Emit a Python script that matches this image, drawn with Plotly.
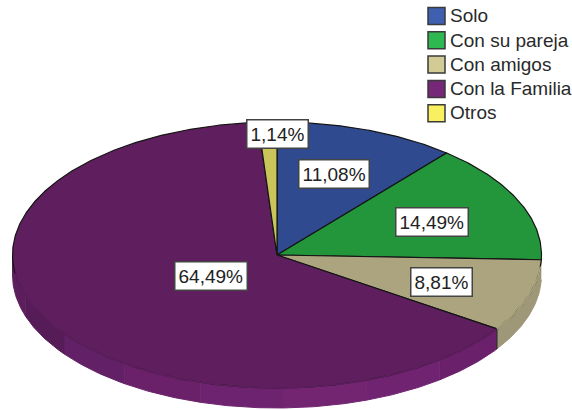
import numpy as np
import plotly.graph_objects as go

categories = ["Solo", "Con su pareja", "Con amigos", "Con la Familia", "Otros"]
values = [11.08, 14.49, 8.81, 64.49, 1.14]
value_labels = ["11,08%", "14,49%", "8,81%", "64,49%", "1,14%"]
legend_colors = ["#3f5fb0", "#2eb84f", "#d3cb95", "#762778", "#f8f060"]
face_colors = ["#2f4a8f", "#23963c", "#aba47e", "#5f1f5f", "#c9c55a"]

# Pie geometry (drawing units equal pixels)
CX, CY, RX, RY, DEPTH = 277, 255, 264.5, 133, 20
label_radius = [0.635, 0.64, 0.65, 0.29, 0.91]
label_dx = [0, 0, 1, 0, 9]
label_dy = [-2, 2, 0, 2, 0]
side_shades = ["#6a206a", "#702370", "#742572", "#6e2370", "#6a2169", "#622066", "#561c58", "#5c1e5c"]
LEGEND_SWATCH_X, LEGEND_TEXT_X, LEGEND_TOP, LEGEND_STEP, LEGEND_TEXT_DY = 436.5, 450, 16, 24.3, 1.5


def pt(deg, dy=0):
    r = np.radians(deg)
    return CX + RX * np.sin(r), CY - RY * np.cos(r) + dy


def arc(a, b):
    return np.linspace(a, b, max(int(abs(b - a) * 2), 2))


cum = np.concatenate([[0], np.cumsum(values)]) * 360 / sum(values)
fig = go.Figure()


def side(a, b, color):
    t = arc(a, b)
    xt, yt = pt(t)
    xb, yb = pt(t[::-1], DEPTH)
    fig.add_trace(go.Scatter(x=np.r_[xt, xb], y=np.r_[yt, yb], fill="toself", fillcolor=color,
                             mode="lines", line=dict(width=1, color=color),
                             showlegend=False, hoverinfo="skip"))


# side wall of the tan slice and banded purple wall
side(cum[2], cum[3], "#9e9878")
edges = np.linspace(cum[3], 270, len(side_shades) + 1)
for i, shade in enumerate(side_shades):
    side(edges[i], edges[i + 1], shade)

# vertical edge between the tan and purple walls
x0, y0 = pt(cum[3])
fig.add_trace(go.Scatter(x=[x0, x0], y=[y0, y0 + DEPTH], mode="lines",
                         line=dict(color="#2a2a2a", width=1.2), showlegend=False, hoverinfo="skip"))
# top faces
for i in range(len(values)):
    t = arc(cum[i], cum[i + 1])
    xa, ya = pt(t)
    fig.add_trace(go.Scatter(x=np.r_[CX, xa, CX], y=np.r_[CY, ya, CY], fill="toself",
                             fillcolor=face_colors[i], mode="lines",
                             line=dict(color="#151515", width=1.2),
                             showlegend=False, hoverinfo="skip"))

# lower front rim has no black line: repaint it in the face colours
for i in [2, 3]:
    t = arc(max(cum[i], 95), min(cum[i + 1], 262))
    xa, ya = pt(t)
    fig.add_trace(go.Scatter(x=xa, y=ya, mode="lines",
                             line=dict(color=face_colors[i], width=1.6),
                             showlegend=False, hoverinfo="skip"))

# legend
rows = [LEGEND_TOP + i * LEGEND_STEP for i in range(len(categories))]
fig.add_trace(go.Scatter(x=[LEGEND_SWATCH_X] * len(rows), y=rows, mode="markers",
                         marker=dict(symbol="square", size=17, color=legend_colors,
                                     line=dict(color="#3a3a3a", width=1.5)),
                         showlegend=False, hoverinfo="skip"))
fig.add_trace(go.Scatter(x=[LEGEND_TEXT_X] * len(rows), y=[r + LEGEND_TEXT_DY for r in rows],
                         mode="text", text=categories,
                         textposition="middle right", textfont=dict(size=19, color="#2a2a2a"),
                         showlegend=False, hoverinfo="skip"))

# value labels
mid = (cum[:-1] + cum[1:]) / 2
for i, text in enumerate(value_labels):
    r = np.radians(mid[i])
    fig.add_annotation(x=CX + RX * np.sin(r) * label_radius[i] + label_dx[i],
                       y=CY - RY * np.cos(r) * label_radius[i] + label_dy[i],
                       text=text, showarrow=False, bgcolor="white", bordercolor="#444444",
                       borderwidth=1.5, borderpad=3, font=dict(size=19, color="#222222"))

fig.update_layout(
    width=572, height=410, margin=dict(l=0, r=0, t=0, b=0), showlegend=False,
    paper_bgcolor="white", plot_bgcolor="white",
    font=dict(family="Liberation Sans, Arial, sans-serif", color="#222222"),
    xaxis=dict(range=[0, 572], visible=False, fixedrange=True),
    yaxis=dict(range=[410, 0], visible=False, fixedrange=True),
)
fig.write_html("out.html", config={"displayModeBar": False},
               post_script="document.body.style.margin='0';")
